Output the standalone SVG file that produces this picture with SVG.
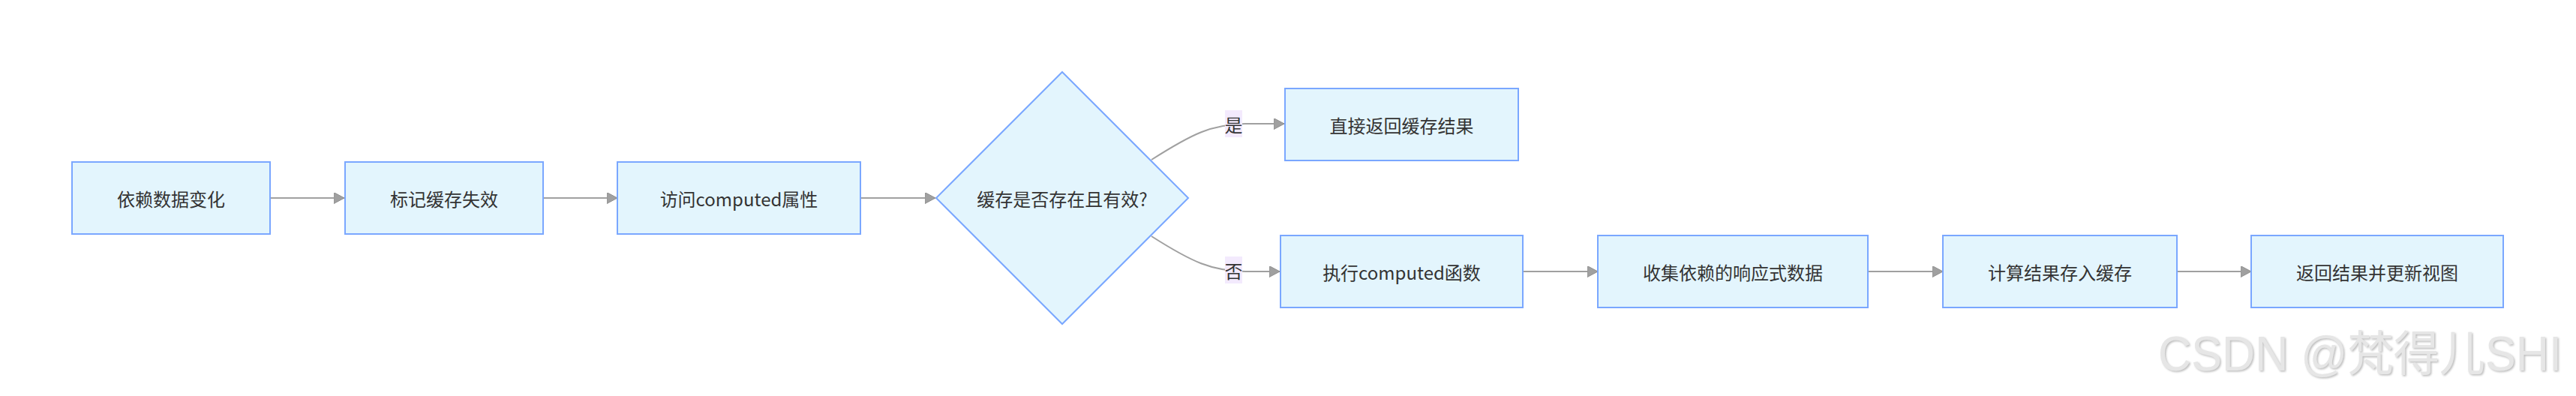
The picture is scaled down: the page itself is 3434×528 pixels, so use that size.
<svg xmlns="http://www.w3.org/2000/svg" width="3434" height="528" viewBox="0 0 3434 528">
<style>
.node rect,.node polygon{fill:#e3f5fd;stroke:#7aa7ff;stroke-width:2}
.label{font-family:"Noto Sans CJK SC","Noto Sans",sans-serif;font-size:24px;fill:#333;text-anchor:middle;dominant-baseline:central}
.edge{fill:none;stroke:#a0a0a0;stroke-width:2}
.elbg{fill:#f3eafd}
.wm{font-family:"Liberation Sans","Noto Sans CJK SC",sans-serif;font-size:64px;fill:#e6e6e6}
</style>
<defs>
<marker id="arrow" markerUnits="userSpaceOnUse" markerWidth="16" markerHeight="16" refX="14" refY="7.5" orient="auto">
<path d="M0,0 L14,7.5 L0,15 z" fill="#a0a0a0" stroke="#909090" stroke-width="1"/>
</marker>
<filter id="emb" x="-5%" y="-20%" width="110%" height="140%">
<feDropShadow dx="1.5" dy="1.5" stdDeviation="0.8" flood-color="#bdbdbd"/>
</filter>
</defs>
<rect width="3434" height="528" fill="#ffffff"/>
<g id="edges">
<path class="edge" d="M360,264 L459,264" marker-end="url(#arrow)"/>
<path class="edge" d="M724,264 L823,264" marker-end="url(#arrow)"/>
<path class="edge" d="M1147,264 L1247,264" marker-end="url(#arrow)"/>
<path class="edge" d="M1535,213 C1590,178 1615,166 1660,165 L1712,165" marker-end="url(#arrow)"/>
<path class="edge" d="M1535,315 C1590,350 1615,361 1660,362 L1706,362" marker-end="url(#arrow)"/>
<path class="edge" d="M2030,362 L2130,362" marker-end="url(#arrow)"/>
<path class="edge" d="M2490,362 L2590,362" marker-end="url(#arrow)"/>
<path class="edge" d="M2902,362 L3001,362" marker-end="url(#arrow)"/>
<g id="label-yes">
<rect class="elbg" x="1633" y="147" width="23" height="36"/>
<text class="label" x="1644.5" y="165">是</text>
</g>
<g id="label-no">
<rect class="elbg" x="1633" y="342" width="23" height="36"/>
<text class="label" x="1644.5" y="360">否</text>
</g>
</g>
<g id="n1" class="node"><rect x="96" y="216" width="264" height="96"/><text class="label" x="228" y="264">依赖数据变化</text></g>
<g id="n2" class="node"><rect x="460" y="216" width="264" height="96"/><text class="label" x="592" y="264">标记缓存失效</text></g>
<g id="n3" class="node"><rect x="823" y="216" width="324" height="96"/><text class="label" x="985" y="264">访问computed属性</text></g>
<g id="n4" class="node"><polygon points="1416,96 1584,264 1416,432 1248,264"/><text class="label" x="1416" y="264">缓存是否存在且有效?</text></g>
<g id="n5" class="node"><rect x="1713" y="118" width="311" height="96"/><text class="label" x="1868.5" y="166">直接返回缓存结果</text></g>
<g id="n6" class="node"><rect x="1707" y="314" width="323" height="96"/><text class="label" x="1868.5" y="362">执行computed函数</text></g>
<g id="n7" class="node"><rect x="2130" y="314" width="360" height="96"/><text class="label" x="2310" y="362">收集依赖的响应式数据</text></g>
<g id="n8" class="node"><rect x="2590" y="314" width="312" height="96"/><text class="label" x="2746" y="362">计算结果存入缓存</text></g>
<g id="n9" class="node"><rect x="3001" y="314" width="336" height="96"/><text class="label" x="3169" y="362">返回结果并更新视图</text></g>
<text class="wm" x="2877" y="494" textLength="538" lengthAdjust="spacingAndGlyphs" filter="url(#emb)">CSDN @梵得儿SHI</text>
</svg>
